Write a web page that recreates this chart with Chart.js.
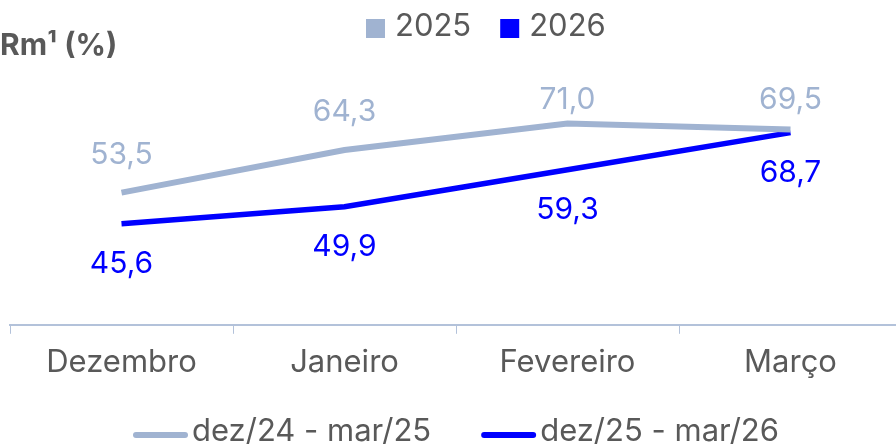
<!DOCTYPE html>
<html>
<head>
<meta charset="utf-8">
<script src="https://cdn.jsdelivr.net/npm/chart.js@4.4.1/dist/chart.umd.min.js"></script>
<style>
  html, body { margin: 0; padding: 0; background: #fff; overflow: hidden; }
  #wrap { width: 904px; height: 447px; }
</style>
</head>
<body>
<div id="wrap"><canvas id="rmChart"></canvas></div>
<script>
const months = ["Dezembro", "Janeiro", "Fevereiro", "Março"];
const rm2025 = [53.5, 64.3, 71.0, 69.5];
const rm2026 = [45.6, 49.9, 59.3, 68.7];
const seriesNames = ["dez/24 - mar/25", "dez/25 - mar/26"];
const yearNames = ["2025", "2026"];

const lightBlue = "#a0b3d1";
const blue = "#0000ff";
const grey = "#595959";
const axisColor = "#b3c2da";
const fontFamily = "Inter, 'DejaVu Sans', sans-serif";

const fmt = v => v.toFixed(1).replace(".", ",");

// value labels, title and the two legends are drawn by hand
const extras = {
    id: "extras",
    afterDatasetsDraw(chart) {
        const c = chart.ctx;
        const area = chart.chartArea;
        c.save();
        c.textAlign = "center";
        c.textBaseline = "middle";
        c.font = "30px " + fontFamily;
        chart.data.datasets.forEach((ds, i) => {
            c.fillStyle = ds.borderColor;
            chart.getDatasetMeta(i).data.forEach((pt, j) => {
                let y = i === 0 ? pt.y - 38 : pt.y + 40;
                if (y < area.top + 12) y = area.top + 12;
                c.fillText(fmt(ds.data[j]), pt.x, y);
            });
        });
        c.restore();
    },
    afterDraw(chart) {
        const c = chart.ctx;
        const colors = chart.data.datasets.map(d => d.borderColor);
        c.save();
        c.textBaseline = "middle";

        // y title
        c.fillStyle = grey;
        c.font = "bold 30px " + fontFamily;
        c.textAlign = "left";
        c.fillText("Rm¹ (%)", 0, 46);

        // top legend (squares)
        c.font = "31px " + fontFamily;
        let x = 366;
        yearNames.forEach((name, i) => {
            c.fillStyle = colors[i];
            c.fillRect(x, 19, 19, 19);
            c.fillStyle = grey;
            c.fillText(name, x + 29, 27);
            x += 29 + c.measureText(name).width + 29;
        });

        // bottom legend (lines)
        x = 133;
        seriesNames.forEach((name, i) => {
            c.strokeStyle = colors[i];
            c.lineWidth = 6;
            c.lineCap = "round";
            c.beginPath();
            c.moveTo(x + 3, 435);
            c.lineTo(x + 52, 435);
            c.stroke();
            c.fillStyle = grey;
            c.fillText(name, x + 59, 432);
            x += 59 + c.measureText(name).width + 50;
        });
        c.restore();
    }
};

new Chart(document.getElementById("rmChart"), {
    type: "line",
    data: {
        labels: months,
        datasets: [
            {
                label: seriesNames[0],
                data: rm2025,
                borderColor: lightBlue,
                borderWidth: 6,
                pointRadius: 0,
                tension: 0
            },
            {
                label: seriesNames[1],
                data: rm2026,
                borderColor: blue,
                borderWidth: 5.5,
                pointRadius: 0,
                tension: 0
            }
        ]
    },
    options: {
        responsive: true,
        maintainAspectRatio: false,
        animation: false,
        layout: {
            padding: { top: 88, left: 10, right: 2, bottom: 56 }
        },
        plugins: {
            legend: { display: false },
            tooltip: { enabled: false }
        },
        scales: {
            y: {
                display: false,
                min: 20,
                max: 80
            },
            x: {
                offset: true,
                grid: {
                    offset: true,
                    drawOnChartArea: false,
                    tickLength: 9,
                    color: axisColor
                },
                border: { color: axisColor, width: 2 },
                ticks: {
                    color: grey,
                    padding: 10,
                    font: { family: fontFamily, size: 31 }
                }
            }
        }
    },
    plugins: [extras]
});
</script>
</body>
</html>
